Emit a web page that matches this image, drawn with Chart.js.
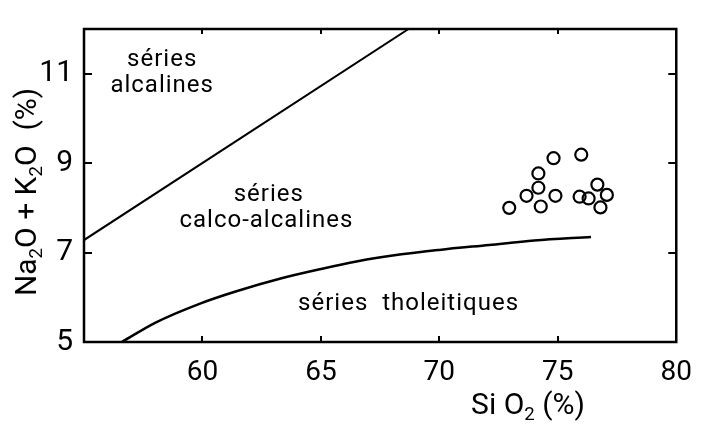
<!DOCTYPE html>
<html>
<head>
<meta charset="utf-8">
<title>Na2O+K2O vs SiO2</title>
<script src="https://cdn.jsdelivr.net/npm/chart.js@4.4.1/dist/chart.umd.min.js"></script>
<style>
  html, body { margin: 0; padding: 0; background: #fff; }
  #wrap { width: 706px; height: 427px; }
</style>
</head>
<body>
<div id="wrap"><canvas id="myChart" width="706" height="427"></canvas></div>
<script>
// analysed samples
var sampleSiO2 = [72.95, 73.68, 74.18, 74.18, 74.28, 74.82, 74.90, 75.99, 75.92, 76.30, 76.67, 77.07, 76.80];
var sampleAlk  = [8.00, 8.27, 8.77, 8.45, 8.03, 9.11, 8.27, 9.19, 8.25, 8.21, 8.52, 8.29, 8.01];

// alcaline / subalcaline limit
var alkLimitSiO2 = [55, 68.7];
var alkLimitAlk  = [7.28, 12];

// calco-alcaline / tholeiitic limit
var tholLimitSiO2 = [56.6, 58.0, 59.9, 61.4, 63.3, 64.9, 66.5, 68.4, 70.0, 72.1, 74.0, 76.4];
var tholLimitAlk  = [5.00, 5.43, 5.86, 6.13, 6.42, 6.62, 6.80, 6.96, 7.06, 7.17, 7.27, 7.35];

var xTicks = [60, 65, 70, 75, 80];
var yTicks = [5, 7, 9, 11];

var FONT = 'Roboto, "DejaVu Sans", sans-serif';

function pairs(xs, ys) {
  var out = [];
  for (var i = 0; i < xs.length; i++) out.push({x: xs[i], y: ys[i]});
  return out;
}

// draws a string made of pieces, some of them as subscripts
function richText(ctx, parts, x, y, size, align) {
  var total = 0;
  parts.forEach(function(p) {
    ctx.font = (p.sub ? size * 0.62 : size) + 'px ' + FONT;
    p.w = ctx.measureText(p.t).width;
    total += p.w;
  });
  var cx = align === 'center' ? x - total / 2 : x;
  parts.forEach(function(p) {
    ctx.font = (p.sub ? size * 0.62 : size) + 'px ' + FONT;
    ctx.fillText(p.t, cx, p.sub ? y + size * 0.2 : y);
    cx += p.w;
  });
}

var frame = {
  id: 'frame',
  afterDatasetsDraw: function(chart) {
    var ctx = chart.ctx, a = chart.chartArea;
    var xs = chart.scales.x, ys = chart.scales.y;
    ctx.save();
    ctx.strokeStyle = '#000';
    ctx.lineWidth = 2.5;
    ctx.strokeRect(a.left, a.top, a.right - a.left, a.bottom - a.top);

    // inward tick marks on all four sides
    ctx.lineWidth = 2;
    ctx.beginPath();
    xTicks.forEach(function(v) {
      var px = Math.round(xs.getPixelForValue(v));
      ctx.moveTo(px, a.bottom); ctx.lineTo(px, a.bottom - 6);
      ctx.moveTo(px, a.top); ctx.lineTo(px, a.top + 5);
    });
    yTicks.forEach(function(v) {
      var py = Math.round(ys.getPixelForValue(v));
      ctx.moveTo(a.left, py); ctx.lineTo(a.left + 8, py);
      ctx.moveTo(a.right, py); ctx.lineTo(a.right - 8, py);
    });
    ctx.stroke();

    // field names
    ctx.fillStyle = '#000';
    ctx.textAlign = 'center';
    ctx.textBaseline = 'middle';
    ctx.font = '24px ' + FONT;
    ctx.letterSpacing = '1px';
    var fields = [
      ['séries', 58.3, 11.3], ['alcalines', 58.3, 10.72],
      ['séries', 62.8, 8.28], ['calco-alcalines', 62.7, 7.7],
      ['séries  tholeitiques', 68.7, 5.85]
    ];
    fields.forEach(function(f) {
      ctx.fillText(f[0], xs.getPixelForValue(f[1]), ys.getPixelForValue(f[2]));
    });
    ctx.letterSpacing = '0px';

    // axis titles
    ctx.textAlign = 'left';
    ctx.textBaseline = 'alphabetic';
    richText(ctx, [{t: 'Si O'}, {t: '2', sub: true}, {t: ' (%)'}], 528, 414, 30, 'center');

    ctx.translate(36, 192);
    ctx.rotate(-Math.PI / 2);
    richText(ctx, [{t: 'Na'}, {t: '2', sub: true}, {t: 'O + K'}, {t: '2', sub: true}, {t: 'O  (%)'}], 0, 0, 30, 'center');
    ctx.restore();
  }
};

var ctx = document.getElementById('myChart').getContext('2d');
var myChart = new Chart(ctx, {
  type: 'scatter',
  data: {
    datasets: [
      {
        label: 'limite alcaline',
        data: pairs(alkLimitSiO2, alkLimitAlk),
        showLine: true,
        borderColor: '#000',
        borderWidth: 2,
        pointRadius: 0
      },
      {
        label: 'limite tholeiitique',
        data: pairs(tholLimitSiO2, tholLimitAlk),
        showLine: true,
        borderColor: '#000',
        borderWidth: 2.5,
        pointRadius: 0,
        cubicInterpolationMode: 'monotone'
      },
      {
        label: 'échantillons',
        data: pairs(sampleSiO2, sampleAlk),
        pointRadius: 6,
        pointBorderWidth: 2.2,
        pointBorderColor: '#000',
        pointBackgroundColor: 'rgba(0,0,0,0)'
      }
    ]
  },
  options: {
    responsive: false,
    animation: false,
    devicePixelRatio: 1,
    layout: { padding: { top: 13, right: 21, left: 0, bottom: 0 } },
    plugins: { legend: { display: false }, tooltip: { enabled: false } },
    scales: {
      x: {
        type: 'linear',
        min: 55,
        max: 80,
        grid: { display: false, drawTicks: false },
        border: { display: false },
        afterBuildTicks: function(s) { s.ticks = xTicks.map(function(v) { return {value: v}; }); },
        afterFit: function(s) { s.height = 85; },
        ticks: { color: '#000', padding: 14, maxRotation: 0, font: { family: FONT, size: 28 } }
      },
      y: {
        type: 'linear',
        min: 5,
        max: 12,
        grid: { display: false, drawTicks: false },
        border: { display: false },
        afterBuildTicks: function(s) { s.ticks = yTicks.map(function(v) { return {value: v}; }); },
        afterFit: function(s) { s.width = 84; },
        ticks: { color: '#000', padding: 11, font: { family: FONT, size: 30 } }
      }
    }
  },
  plugins: [frame]
});
</script>
</body>
</html>
